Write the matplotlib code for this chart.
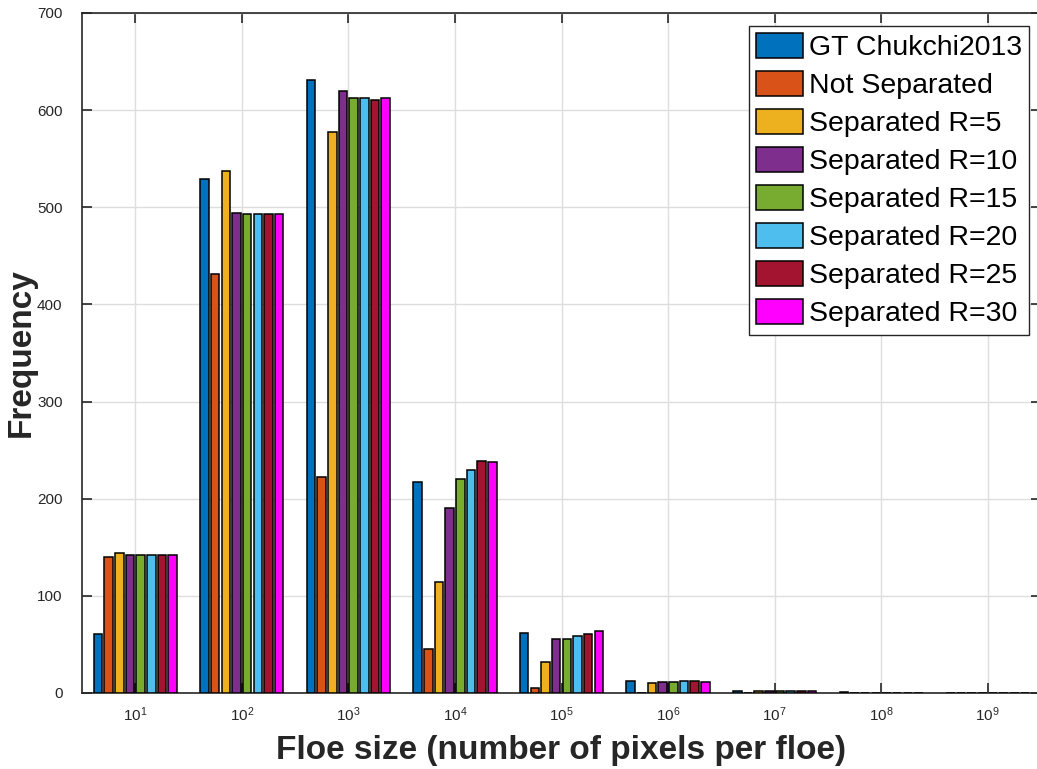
import numpy as np
import matplotlib
matplotlib.use("Agg")
import matplotlib.pyplot as plt

plt.rcParams['font.family'] = ['Liberation Sans', 'DejaVu Sans']
plt.rcParams['mathtext.fontset'] = 'custom'
plt.rcParams['mathtext.rm'] = 'Liberation Sans'
plt.rcParams['mathtext.it'] = 'Liberation Sans'

# Floe-size bins (powers of ten) and series labels
bin_labels = [r'$10^{1}$', r'$10^{2}$', r'$10^{3}$', r'$10^{4}$', r'$10^{5}$',
              r'$10^{6}$', r'$10^{7}$', r'$10^{8}$', r'$10^{9}$']
series_names = ['GT Chukchi2013', 'Not Separated', 'Separated R=5', 'Separated R=10',
                'Separated R=15', 'Separated R=20', 'Separated R=25', 'Separated R=30']

gt_chukchi = [61, 529, 631, 217, 62, 12, 2, 1, 0]
not_separated = [140, 431, 222, 45, 5, 0, 0, 0, 0]
sep_r5 = [144, 537, 578, 114, 32, 10, 2, 0, 0]
sep_r10 = [142, 494, 620, 190, 56, 11, 2, 0, 0]
sep_r15 = [142, 493, 613, 220, 56, 11, 2, 0, 0]
sep_r20 = [142, 493, 612, 230, 59, 12, 2, 0, 0]
sep_r25 = [142, 493, 610, 239, 61, 12, 2, 0, 0]
sep_r30 = [142, 493, 612, 238, 64, 11, 2, 0, 0]

series = [gt_chukchi, not_separated, sep_r5, sep_r10, sep_r15, sep_r20, sep_r25, sep_r30]
colors = ['#0072BD', '#D95319', '#EDB120', '#7E2F8E', '#77AC30', '#4DBEEE', '#A2142F', '#FF00FF']

fig = plt.figure(figsize=(10.37, 7.69), dpi=100)
ax = fig.add_axes([82 / 1037, 76 / 769, (1041 - 82) / 1037, 680 / 769])

x = np.arange(1, len(bin_labels) + 1)
n = len(series)
slot = 0.8 / n
for i, (vals, col, name) in enumerate(zip(series, colors, series_names)):
    offs = (i - (n - 1) / 2) * slot
    ax.bar(x + offs, vals, width=slot * 0.8, color=col, edgecolor='black',
           linewidth=1.1, label=name, zorder=3)

ax.set_xlim(0.5, 9.5)
ax.set_ylim(0, 700)
ax.set_xticks(x)
ax.set_xticklabels(bin_labels)
ax.set_yticks(np.arange(0, 701, 100))

ax.grid(True, color='#dedede', linewidth=1.0, zorder=0)
ax.set_axisbelow(True)
for sp in ax.spines.values():
    sp.set_color('#262626')
    sp.set_linewidth(1.2)
ax.tick_params(direction='in', length=7, width=1.2, color='#262626',
               top=True, right=True, labelsize=11, labelcolor='#262626')
ax.tick_params(axis='y', pad=14)
ax.tick_params(axis='x', pad=9)

ax.set_xlabel('Floe size (number of pixels per floe)', fontsize=24,
              fontweight='bold', color='#262626', labelpad=8)
ax.set_ylabel('Frequency', fontsize=24, fontweight='bold', color='#262626', labelpad=0)

leg = ax.legend(loc='upper right', bbox_to_anchor=(1029 / 1037, 1 - 26 / 769),
                bbox_transform=fig.transFigure, borderaxespad=0, fontsize=20.5,
                handlelength=1.65, handleheight=0.95, handletextpad=0.2,
                labelspacing=0.35, borderpad=0.25, fancybox=False, framealpha=1)
leg.get_frame().set_edgecolor('#262626')
leg.get_frame().set_linewidth(1.0)

fig.savefig('out.png', dpi=100)
